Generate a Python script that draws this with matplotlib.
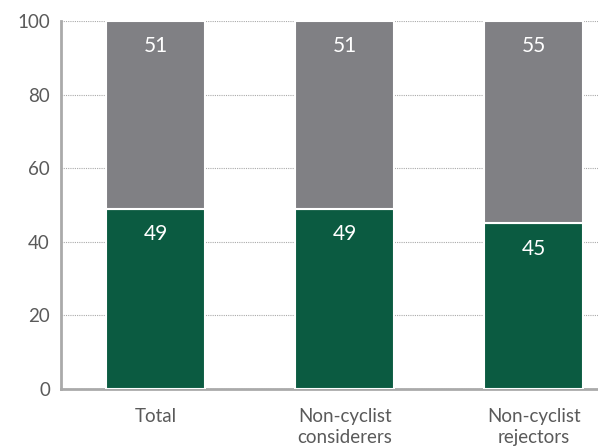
import matplotlib
matplotlib.use("Agg")
import matplotlib.pyplot as plt

categories = ["Total", "Non-cyclist\nconsiderers", "Non-cyclist\nrejectors"]
green_vals = [49, 49, 45]
grey_vals = [51, 51, 55]
yticks = [0, 20, 40, 60, 80, 100]

plt.rcParams['font.family'] = ['Lato', 'DejaVu Sans']

fig = plt.figure(figsize=(5.98, 4.46), dpi=100)
ax = fig.add_axes([0.102, 0.128, 0.898, 0.825])

green = "#0b5b41"
grey = "#808084"
x = list(range(len(categories)))
w = 0.524
ax.bar(x, green_vals, width=w, color=green, edgecolor="white", linewidth=1.5, zorder=3)
ax.bar(x, grey_vals, width=w, bottom=green_vals, color=grey, edgecolor="white", linewidth=1.5, zorder=3)

for xi, g, r in zip(x, green_vals, grey_vals):
    ax.annotate(f"{g}", (xi, g), xytext=(0, -11), textcoords="offset points",
                ha="center", va="top", color="white", fontsize=15, zorder=4)
    ax.annotate(f"{r}", (xi, g + r), xytext=(0, -11), textcoords="offset points",
                ha="center", va="top", color="white", fontsize=15, zorder=4)

ax.set_xlim(-0.5, 2.34)
ax.set_ylim(0, 100)
ax.set_yticks(yticks)
ax.set_xticks(x)
ax.set_xticklabels(categories)
ax.tick_params(axis="both", length=0, labelsize=13.5, colors="#5a5a5a")
ax.tick_params(axis="x", pad=14)
ax.tick_params(axis="y", pad=8)
ax.yaxis.grid(True, linestyle=(0, (1, 1)), color="#aaaaaa", linewidth=0.8, zorder=0)
ax.set_axisbelow(True)
for s in ["top", "right"]:
    ax.spines[s].set_visible(False)
for s in ["left", "bottom"]:
    ax.spines[s].set_color("#aaaaaa")
    ax.spines[s].set_linewidth(2)
for lbl in ax.get_xticklabels():
    lbl.set_linespacing(1.25)

fig.savefig("out.png", dpi=100)
